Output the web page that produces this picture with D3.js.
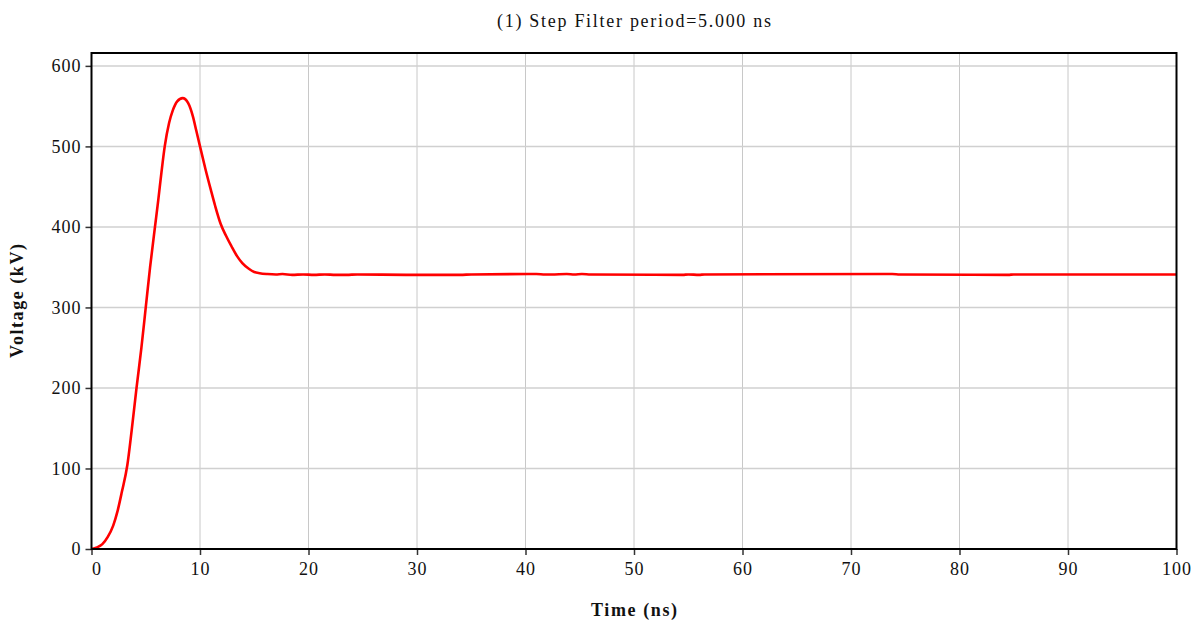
<!DOCTYPE html>
<html>
<head>
<meta charset="utf-8">
<script src="https://cdn.jsdelivr.net/npm/d3@7"></script>
<style>
  body { margin: 0; background: #fff; }
  svg { display: block; }
  .tick text { font-family: "Liberation Serif", "DejaVu Serif", serif; font-size: 18px; letter-spacing: 1px; fill: #111; }
</style>
</head>
<body>
<svg id="chart"></svg>
<script>
// time (ns) and voltage (kV)
const timeNs = [
  0, 0.5, 1.0, 1.5, 2.0, 2.4, 2.8, 3.3, 3.7, 4.15, 4.6, 5.0, 5.4, 5.85, 6.15, 6.45,
  6.75, 7.15, 7.5, 7.9, 8.4, 8.9, 9.35, 9.65, 10.0, 10.5, 11.0, 11.4, 11.9, 12.4,
  12.9, 13.4, 13.9, 14.5, 15.0, 15.5, 16.2, 17.0, 17.6, 18.5, 19.5, 20.5, 21.5,
  22.5, 23.5, 24.5, 29.0, 30.0, 31.0, 32.0, 33.0, 34.0, 35.0, 40.3, 41.0, 41.8,
  42.4, 43.8, 44.5, 45.2, 46.0, 54.5, 55.0, 56.0, 56.5, 73.0, 73.8, 74.5, 84.5,
  85.0, 100
];
const voltageKV = [
  0, 2, 6, 15, 29, 47, 71, 104, 147, 200, 250, 300, 350, 400, 433, 468,
  500, 529, 545, 556, 560, 554, 537, 520, 500, 472, 446, 426, 404, 389,
  376, 364, 355, 348, 344, 342.5, 341.5, 341, 341.5, 340.5, 341, 340.5, 341,
  340.5, 340.5, 341, 340.5, 340.5, 340.5, 340.5, 340.5, 340.5, 341, 341.5, 341.5, 341,
  341, 341.5, 341, 341.5, 341, 340.5, 341, 340.5, 341, 341.5, 341.5, 341, 340.5,
  341, 341
];
const xTicks = [0, 10, 20, 30, 40, 50, 60, 70, 80, 90, 100];
const yTicks = [0, 100, 200, 300, 400, 500, 600];

const titleText = '(1) Step Filter period=5.000 ns';
const xLabel = 'Time (ns)';
const yLabel = 'Voltage (kV)';

const width = 1202, height = 620;
const margin = { top: 53, right: 25.5, bottom: 71, left: 91.5 };
const serif = '"Liberation Serif", "DejaVu Serif", serif';

const svg = d3.select('#chart').attr('width', width).attr('height', height);

const x = d3.scaleLinear().domain([0, 100]).range([margin.left, width - margin.right]);
const y = d3.scaleLinear().domain([0, 616]).range([height - margin.bottom, margin.top]);

// grid
svg.append('g')
  .selectAll('line')
  .data(xTicks.slice(1, -1))
  .join('line')
  .attr('x1', d => x(d)).attr('x2', d => x(d))
  .attr('y1', y.range()[1]).attr('y2', y.range()[0])
  .attr('stroke', '#c8c8c8').attr('stroke-width', 1);

svg.append('g')
  .selectAll('line')
  .data(yTicks.slice(1))
  .join('line')
  .attr('x1', x.range()[0]).attr('x2', x.range()[1])
  .attr('y1', d => y(d)).attr('y2', d => y(d))
  .attr('stroke', '#d0d0d0').attr('stroke-width', 1.5);

// axes
const xAxis = g => g
  .attr('transform', `translate(0,${height - margin.bottom})`)
  .call(d3.axisBottom(x).tickValues(xTicks).tickSize(6).tickPadding(7).tickSizeOuter(0))
  .call(g => g.select('.domain').remove())
  .call(g => g.selectAll('.tick line').attr('stroke', '#333').attr('stroke-width', 1.5))
  .call(g => g.selectAll('.tick text').filter(d => d === 0).attr('dx', 5));

const yAxis = g => g
  .attr('transform', `translate(${margin.left},0)`)
  .call(d3.axisLeft(y).tickValues(yTicks).tickSize(6).tickPadding(4).tickSizeOuter(0))
  .call(g => g.select('.domain').remove())
  .call(g => g.selectAll('.tick line').attr('stroke', '#333').attr('stroke-width', 1.5));

svg.append('g').call(xAxis);
svg.append('g').call(yAxis);

// curve
const data = timeNs.map((t, i) => ({ t, v: voltageKV[i] }));
const line = d3.line()
  .x(d => x(d.t))
  .y(d => y(d.v))
  .curve(d3.curveMonotoneX);

svg.append('path')
  .datum(data)
  .attr('fill', 'none')
  .attr('stroke', '#ff0000')
  .attr('stroke-width', 2.6)
  .attr('stroke-linejoin', 'round')
  .attr('d', line);

// frame
svg.append('rect')
  .attr('x', x.range()[0]).attr('y', y.range()[1])
  .attr('width', x.range()[1] - x.range()[0])
  .attr('height', y.range()[0] - y.range()[1])
  .attr('fill', 'none')
  .attr('stroke', '#000')
  .attr('stroke-width', 2);

// titles
const cx = (x.range()[0] + x.range()[1]) / 2;

svg.append('text')
  .attr('x', cx).attr('y', 27)
  .attr('text-anchor', 'middle')
  .attr('font-family', serif).attr('font-size', 18).attr('fill', '#111')
  .attr('textLength', 274).attr('lengthAdjust', 'spacing')
  .text(titleText);

svg.append('text')
  .attr('x', cx).attr('y', 616)
  .attr('text-anchor', 'middle')
  .attr('font-family', serif).attr('font-size', 18).attr('font-weight', 'bold').attr('fill', '#111')
  .attr('textLength', 86).attr('lengthAdjust', 'spacing')
  .text(xLabel);

svg.append('text')
  .attr('transform', `translate(23,${(y.range()[0] + y.range()[1]) / 2}) rotate(-90)`)
  .attr('text-anchor', 'middle')
  .attr('font-family', serif).attr('font-size', 18).attr('font-weight', 'bold').attr('fill', '#111')
  .attr('textLength', 114).attr('lengthAdjust', 'spacing')
  .text(yLabel);
</script>
</body>
</html>
